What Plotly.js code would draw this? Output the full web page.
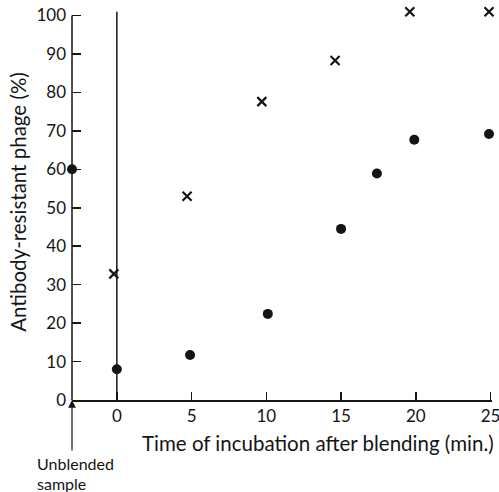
<!DOCTYPE html>
<html><head><meta charset="utf-8">
<script src="https://cdn.plot.ly/plotly-3.0.1.min.js"></script>
<style>html,body{margin:0;padding:0;background:#fff}</style>
</head><body>
<div id="chart" style="width:499px;height:492px"></div>
<script>
// time of incubation after blending (min.); -3 marks the unblended sample on the axis
var dotTimes = [-3, 0, 4.9, 10.1, 15.0, 17.4, 19.9, 24.9];
var dotValues = [60, 8, 11.7, 22.4, 44.5, 58.9, 67.7, 69.2];
var crossTimes = [-0.2, 4.7, 9.7, 14.6, 19.6, 24.9];
var crossValues = [32.8, 53, 77.6, 88.3, 101, 101];
var xTicks = [0, 5, 10, 15, 20, 25];
var yTicks = [0, 10, 20, 30, 40, 50, 60, 70, 80, 90, 100];

var ink = '#151515';
var numFont = 'Lato, "Open Sans", sans-serif';
var txtFont = 'Lato, "Open Sans", sans-serif';

var traces = [
  {x: dotTimes, y: dotValues, type: 'scatter', mode: 'markers', cliponaxis: false,
   marker: {symbol: 'circle', size: 10, color: ink}, showlegend: false, hoverinfo: 'skip'},
  {x: crossTimes, y: crossValues, type: 'scatter', mode: 'markers', cliponaxis: false,
   marker: {symbol: 'x-thin', size: 9, color: ink, line: {color: ink, width: 2.2}}, showlegend: false, hoverinfo: 'skip'}
];

var layout = {
  width: 499, height: 492,
  margin: {l: 72, r: 7, t: 4, b: 92},
  paper_bgcolor: '#fff', plot_bgcolor: '#fff',
  font: {family: numFont, color: ink},
  xaxis: {range: [-3, 25.1], tickvals: xTicks, ticktext: xTicks.map(String),
    ticks: 'inside', ticklen: 8, tickwidth: 1.5, tickcolor: ink, ticklabeloverflow: 'allow',
    showline: true, linecolor: ink, linewidth: 1.5, showgrid: false, zeroline: false,
    tickfont: {family: numFont, size: 17, color: ink}
  },
  yaxis: {range: [0, 103], tickvals: yTicks, ticktext: yTicks.map(String),
    ticks: 'inside', ticklen: 9, tickwidth: 1.5, tickcolor: ink, ticklabelstandoff: 5,
    showline: false, showgrid: false, zeroline: false,
    tickfont: {family: numFont, size: 17, color: ink},
    title: {text: 'Antibody-resistant phage (%)', font: {family: txtFont, size: 20.5, color: ink}, standoff: 4}
  },
  shapes: [
    {type: 'line', xref: 'paper', yref: 'y', x0: 0, x1: 0, y0: 0, y1: 100, line: {color: ink, width: 1.5}},
    {type: 'line', xref: 'x', yref: 'y', x0: 0, x1: 0, y0: 0, y1: 101, line: {color: ink, width: 1.5}}
  ],
  annotations: [
    {x: -3, y: 0, xref: 'x', yref: 'y', ax: 0, ay: 52, showarrow: true, arrowhead: 2, arrowsize: 1.3, arrowwidth: 1.2, arrowcolor: ink, text: ''},
    {x: 318, y: 443, xref: 'paper', yref: 'paper', showarrow: false, text: 'Time of incubation after blending (min.)',
     font: {family: txtFont, size: 20.5, color: ink}, xanchor: 'center', yanchor: 'middle'},
    {x: 35, y: 463, xref: 'paper', yref: 'paper', xanchor: 'left', yanchor: 'middle', showarrow: false,
     text: 'Unblended', font: {family: txtFont, size: 16, color: ink}},
    {x: 35, y: 483, xref: 'paper', yref: 'paper', xanchor: 'left', yanchor: 'middle', showarrow: false,
     text: 'sample', font: {family: txtFont, size: 16, color: ink}}
  ]
};
// convert pixel positions of text annotations into paper fractions
var plotW = 499 - 72 - 7, plotH = 492 - 4 - 92;
layout.annotations.slice(1).forEach(function (a) {
  a.x = (a.x - 72) / plotW;
  a.y = (492 - 92 - a.y) / plotH;
});

Plotly.newPlot('chart', traces, layout, {displayModeBar: false, staticPlot: true});
</script>
</body></html>
